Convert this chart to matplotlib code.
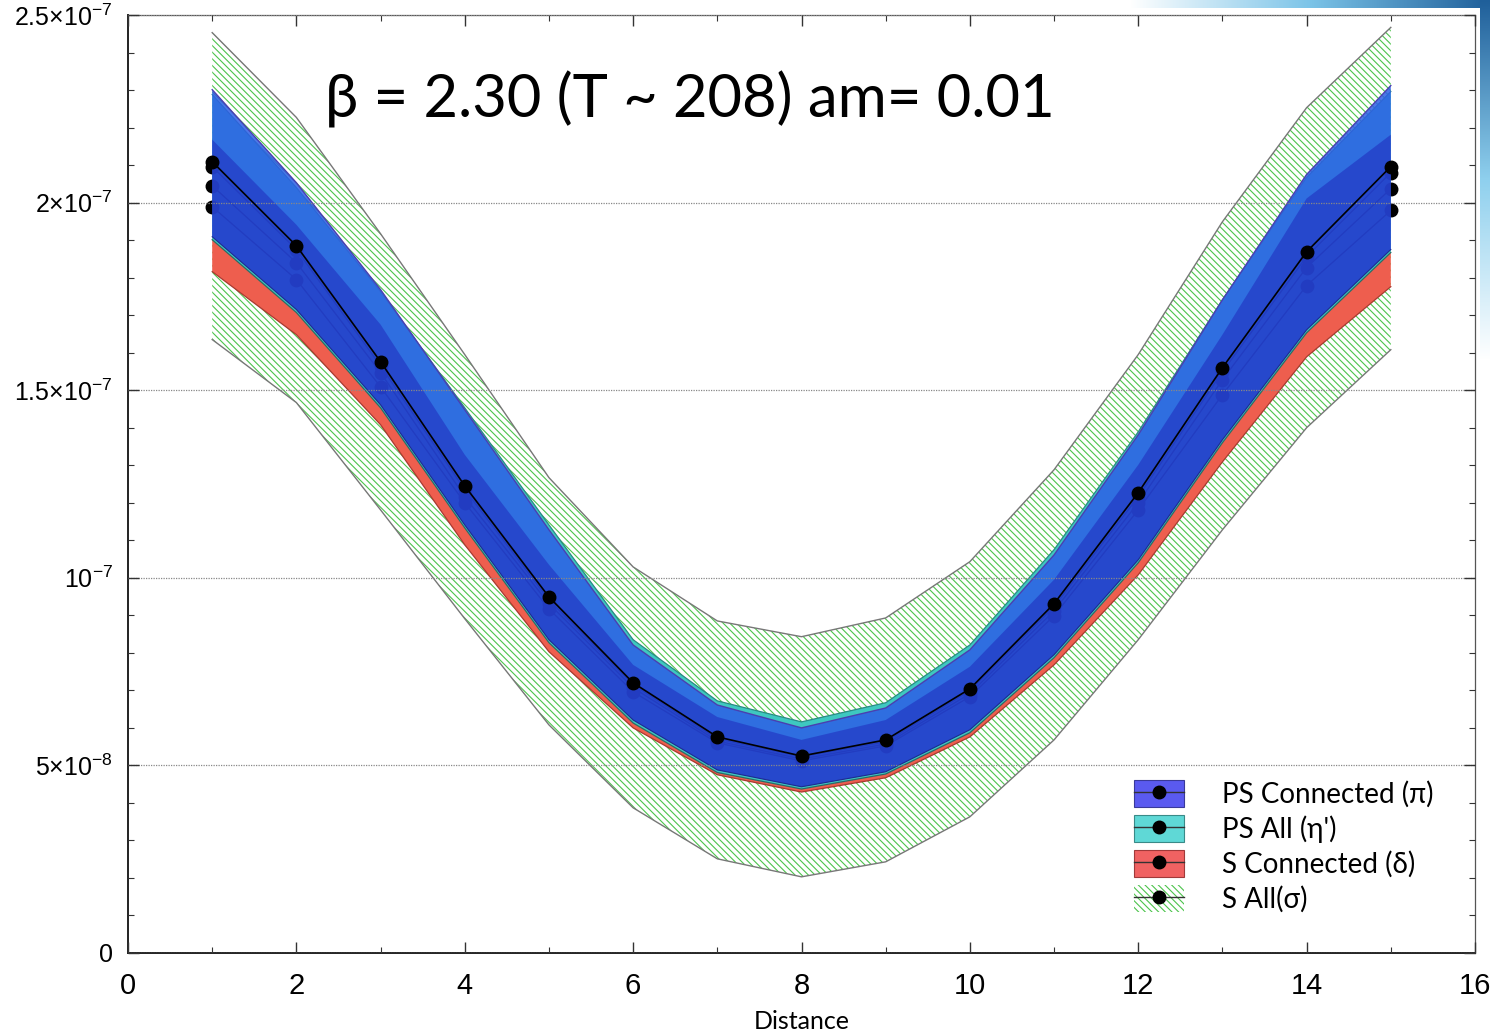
import numpy as np
import matplotlib
matplotlib.use("Agg")
import matplotlib.pyplot as plt
from matplotlib.patches import Patch
from matplotlib.lines import Line2D
from matplotlib.legend_handler import HandlerTuple
from matplotlib.ticker import MultipleLocator, FuncFormatter
from matplotlib.colors import LinearSegmentedColormap

plt.rcParams['font.family'] = ['Liberation Sans', 'DejaVu Sans']
plt.rcParams['hatch.linewidth'] = 0.8

# Correlator values, in units of 1e-7
distance = np.arange(1, 16)

# central values (dots) for each channel
ps_conn = [2.109, 1.885, 1.576, 1.245, 0.949, 0.720, 0.576, 0.525, 0.568, 0.704, 0.931, 1.227, 1.560, 1.869, 2.096]
ps_all = [2.096, 1.875, 1.565, 1.235, 0.941, 0.715, 0.571, 0.523, 0.563, 0.699, 0.923, 1.216, 1.549, 1.856, 2.080]
s_conn = [2.045, 1.840, 1.547, 1.216, 0.931, 0.707, 0.565, 0.517, 0.557, 0.691, 0.912, 1.200, 1.528, 1.827, 2.037]
s_all = [1.989, 1.795, 1.509, 1.200, 0.917, 0.696, 0.560, 0.512, 0.552, 0.683, 0.899, 1.181, 1.488, 1.779, 1.979]

# error bands
ps_conn_hi = [2.301, 2.053, 1.768, 1.448, 1.128, 0.821, 0.661, 0.600, 0.653, 0.808, 1.061, 1.381, 1.741, 2.075, 2.312]
ps_conn_mid = [2.168, 1.941, 1.675, 1.328, 1.035, 0.768, 0.629, 0.568, 0.621, 0.763, 0.995, 1.301, 1.648, 2.011, 2.181]
ps_conn_lo = [1.909, 1.715, 1.461, 1.141, 0.835, 0.621, 0.488, 0.443, 0.483, 0.595, 0.795, 1.048, 1.368, 1.661, 1.875]
ps_all_hi = [2.288, 2.040, 1.763, 1.453, 1.141, 0.835, 0.672, 0.616, 0.667, 0.821, 1.075, 1.389, 1.741, 2.067, 2.296]
ps_all_lo = [1.901, 1.707, 1.453, 1.133, 0.827, 0.613, 0.481, 0.437, 0.477, 0.587, 0.787, 1.040, 1.360, 1.653, 1.867]
s_conn_hi = [1.901, 1.707, 1.453, 1.133, 0.827, 0.613, 0.481, 0.437, 0.477, 0.587, 0.787, 1.040, 1.360, 1.653, 1.867]
s_conn_lo = [1.816, 1.648, 1.408, 1.088, 0.803, 0.600, 0.475, 0.429, 0.467, 0.576, 0.768, 1.008, 1.309, 1.589, 1.776]
s_all_hi = [2.453, 2.227, 1.917, 1.595, 1.267, 1.029, 0.885, 0.843, 0.893, 1.043, 1.288, 1.595, 1.949, 2.253, 2.467]
s_all_lo = [1.635, 1.467, 1.181, 0.891, 0.608, 0.387, 0.251, 0.203, 0.243, 0.363, 0.568, 0.835, 1.128, 1.400, 1.608]

labels = ["PS Connected (π)", "PS All (η')", "S Connected (δ)", "S All(σ)"]
title = "β = 2.30 (T ~ 208) am= 0.01"
y_tick_text = {0: '0', 1: r'$\mathregular{5{\times}10^{-8}}$', 2: r'$\mathregular{10^{-7}}$',
               3: r'$\mathregular{1.5{\times}10^{-7}}$', 4: r'$\mathregular{2{\times}10^{-7}}$',
               5: r'$\mathregular{2.5{\times}10^{-7}}$'}

U = 1e-7
def sc(v):
    return np.asarray(v) * U

fig = plt.figure(figsize=(14.9, 10.32), dpi=100)
ax = fig.add_axes([128/1490, 1-953/1032, (1475-128)/1490, (953-15)/1032])

GREEN = '#4cc44c'
HATCH = '\\\\\\\\\\'
# S All: hatched band
ax.fill_between(distance, sc(s_all_lo), sc(s_all_hi), facecolor='white',
                edgecolor=GREEN, hatch=HATCH, linewidth=0, zorder=1)
ax.plot(distance, sc(s_all_hi), color='#777777', lw=1.0, zorder=1.1)
ax.plot(distance, sc(s_all_lo), color='#777777', lw=1.0, zorder=1.1)

# S Connected
ax.fill_between(distance, sc(s_conn_lo), sc(s_conn_hi), facecolor='#ee5e4e',
                linewidth=0, zorder=1.2)
ax.plot(distance, sc(s_conn_lo), color='#a83a30', lw=0.9, zorder=1.25)

# PS All
ax.fill_between(distance, sc(ps_all_lo), sc(ps_all_hi), facecolor='#3ec8c0',
                linewidth=0, zorder=1.3)
ax.plot(distance, sc(ps_all_hi), color='#2a8a85', lw=0.9, zorder=1.35)
ax.plot(distance, sc(ps_all_lo), color='#2a6a65', lw=0.9, zorder=1.35)

# lower-lying central values (partly hidden under the pion band)
for vals in (s_all, s_conn, ps_all):
    ax.plot(distance, sc(vals), color='black', lw=1.0, marker='o', ms=9,
            zorder=1.4)

# PS Connected: two-tone translucent band
ax.fill_between(distance, sc(ps_conn_lo), sc(ps_conn_hi), facecolor='#2d5fe6',
                alpha=0.85, linewidth=0, zorder=1.5)
ax.fill_between(distance, sc(ps_conn_lo), sc(ps_conn_mid), facecolor='#2030c0',
                alpha=0.6, linewidth=0, zorder=1.55)
ax.plot(distance, sc(ps_conn_hi), color='#4a3fb0', lw=1.0, zorder=1.6)
ax.plot(distance, sc(ps_conn_lo), color='#1e2a90', lw=0.8, zorder=1.6)

ax.plot(distance, sc(ps_conn), color='black', lw=1.2, marker='o', ms=9,
        zorder=3)

# axes, ticks, grid
ax.set_xlim(0, 16)
ax.set_ylim(0, 2.5e-7)
ax.xaxis.set_major_locator(MultipleLocator(2))
ax.xaxis.set_minor_locator(MultipleLocator(1))
ax.yaxis.set_major_locator(MultipleLocator(5e-8))
ax.yaxis.set_minor_locator(MultipleLocator(1e-8))
ax.yaxis.set_major_formatter(FuncFormatter(lambda v, p: y_tick_text.get(int(round(v / 5e-8)), '')))
ax.xaxis.set_major_formatter(FuncFormatter(lambda v, p: f"{int(round(v))}"))

ax.tick_params(which='both', direction='in', top=True, right=True, color='#333333')
ax.tick_params(which='major', length=8, width=1.0)
ax.tick_params(which='minor', length=4, width=0.8)
ax.tick_params(axis='x', labelsize=21, pad=14)
ax.tick_params(axis='y', labelsize=18, pad=11)

for side in ('top', 'right'):
    ax.spines[side].set_color('#555555')
    ax.spines[side].set_linewidth(0.9)
for side in ('left', 'bottom'):
    ax.spines[side].set_color('#222222')
    ax.spines[side].set_linewidth(1.4)

ax.yaxis.grid(True, which='major', linestyle=(0, (1, 1)), color='#888888', lw=0.9)
ax.set_axisbelow(False)

ax.set_xlabel('Distance', fontsize=18, labelpad=7, family=['Lato', 'DejaVu Sans'])

ax.text(0.146, 0.91, title, transform=ax.transAxes, fontsize=43,
        family=['Lato', 'DejaVu Sans'], va='center', ha='left')

# legend
swatches = [
    Patch(facecolor='#5a5af0', edgecolor='#3a3a9a', lw=0.8),
    Patch(facecolor='#5fd8d6', edgecolor='#3a8a88', lw=0.8),
    Patch(facecolor='#f06262', edgecolor='#a03a3a', lw=0.8),
    Patch(facecolor='white', edgecolor=GREEN, hatch=HATCH, lw=0),
]
handles = [(s, Line2D([], [], color='#333333', lw=1.0, marker='o', ms=9, mfc='black', mec='black'))
           for s in swatches]
leg = ax.legend(handles, labels, handler_map={tuple: HandlerTuple(ndivide=1)},
                loc='lower left', bbox_to_anchor=(0.747, 0.0425), frameon=False,
                prop={'family': ['Lato', 'DejaVu Sans'], 'size': 20},
                handlelength=1.8, handleheight=1.1, labelspacing=0.26,
                handletextpad=1.35, borderpad=0, borderaxespad=0)

# slide decoration strips in the corner
grad = np.linspace(0, 1, 256)[None, :]
top_ax = fig.add_axes([1130/1490, 1-8/1032, 360/1490, 8/1032])
top_ax.imshow(grad, aspect='auto', cmap=LinearSegmentedColormap.from_list(
    'g1', ['#ffffff', '#7cc4e8', '#1f5f9a']))
top_ax.axis('off')
side_ax = fig.add_axes([1480/1490, 1-360/1032, 10/1490, 360/1032])
side_ax.imshow(grad.T[::-1], aspect='auto', cmap=LinearSegmentedColormap.from_list(
    'g2', ['#ffffff', '#8fd0ee', '#1f5f9a']))
side_ax.axis('off')

fig.savefig('out.png', dpi=100)
